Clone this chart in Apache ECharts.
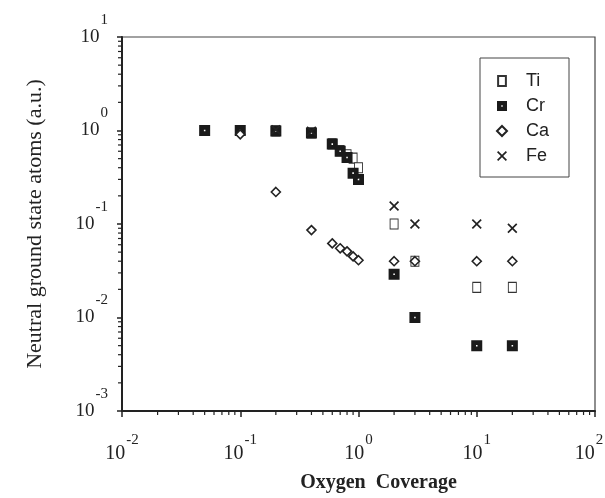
<!DOCTYPE html>
<html>
<head>
<meta charset="utf-8">
<script src="https://cdn.jsdelivr.net/npm/echarts@6/dist/echarts.min.js"></script>
<style>html,body{margin:0;padding:0;background:#fff;}#c{width:605px;height:498px;}</style>
</head>
<body>
<div id="c"></div>
<script>
// Data (x = oxygen coverage, y = neutral ground state atoms, a.u.)
var tiData = [[0.05,1.0],[0.1,1.0],[0.2,0.99],[0.4,0.94],[0.6,0.72],[0.7,0.61],[0.8,0.55],[0.9,0.506],[1.0,0.40],[2,0.10],[3,0.040],[10,0.021],[20,0.021]];
var crData = [[0.05,1.0],[0.1,1.0],[0.2,0.99],[0.4,0.94],[0.6,0.715],[0.7,0.60],[0.8,0.515],[0.9,0.35],[1.0,0.30],[2,0.029],[3,0.010],[10,0.005],[20,0.005]];
var caData = [[0.1,0.91],[0.2,0.22],[0.4,0.086],[0.6,0.062],[0.7,0.055],[0.8,0.051],[0.9,0.045],[1.0,0.041],[2,0.040],[3,0.040],[10,0.040],[20,0.040]];
var feData = [[0.2,1.02],[0.4,0.98],[2,0.156],[3,0.10],[10,0.10],[20,0.09]];
var seriesNames = ['Ti','Cr','Ca','Fe'];
var xMin = 0.01, xMax = 100, yMin = 0.001, yMax = 10;
var minorFactors = [2,3,4,5,6,7,8,9];

var serif = 'Liberation Serif';
var sans = 'Liberation Sans';
var ink = '#222';

function expLabel(v){
  var e = Math.round(Math.log10(v));
  return '{b|10}{e|' + e + '}';
}
function xExpLabel(v){
  var e = Math.round(Math.log10(v));
  var s = '{b|10}{e|' + e + '}';
  if (Math.abs(v - xMax) < 1e-9) s += '{s| }';
  return s;
}

var chart = echarts.init(document.getElementById('c'), null, {renderer:'canvas'});

// minor log ticks drawn through the axes' own scales
var xMinor = [], yMinor = [];
for (var k = -2; k < 2; k++) minorFactors.forEach(function(f){ xMinor.push(f*Math.pow(10,k)); });
for (var j = -3; j < 1; j++) minorFactors.forEach(function(f){ yMinor.push(f*Math.pow(10,j)); });

var option = {
  backgroundColor:'#fff',
  animation:false,
  grid:{left:122,right:10,top:37,bottom:87,show:true,borderColor:'#444',borderWidth:1.2,backgroundColor:'transparent',containLabel:false,outerBoundsMode:'none'},
  legend:{
    orient:'vertical', left:480, top:58,
    data:seriesNames,
    borderColor:'#444', borderWidth:1, borderRadius:0,
    padding:[14,20,12,16],
    itemWidth:10, itemHeight:10, itemGap:7,
    textStyle:{fontFamily:sans,fontSize:18,color:ink,padding:[0,0,0,14]}
  },
  xAxis:{
    type:'log', logBase:10, min:xMin, max:xMax,
    name:'Oxygen  Coverage', nameLocation:'middle', nameGap:62,
    nameTextStyle:{fontFamily:serif,fontSize:20,fontWeight:'bold',color:ink,padding:[0,0,0,40]},
    axisLine:{lineStyle:{color:ink,width:2}},
    axisTick:{inside:false,length:6,lineStyle:{color:ink,width:1.5}},
    minorTick:{show:false},
    splitLine:{show:false},
    axisLabel:{
      margin:22, color:ink, fontFamily:serif,
      formatter:xExpLabel,
      rich:{
        b:{fontFamily:serif,fontSize:20,color:ink,verticalAlign:'bottom'},
        e:{fontFamily:serif,fontSize:15,color:ink,verticalAlign:'bottom',padding:[0,0,16,1]},
        s:{fontFamily:serif,fontSize:15,width:12,verticalAlign:'bottom'}
      }
    }
  },
  yAxis:{
    type:'log', logBase:10, min:yMin, max:yMax,
    name:'Neutral ground state atoms (a.u.)', nameLocation:'middle', nameGap:76,
    nameTextStyle:{fontFamily:serif,fontSize:22,color:ink},
    axisLine:{lineStyle:{color:ink,width:2}},
    axisTick:{inside:false,length:5,lineStyle:{color:ink,width:1.5}},
    minorTick:{show:false},
    splitLine:{show:false},
    axisLabel:{
      margin:14, color:ink, fontFamily:serif,
      formatter:expLabel,
      rich:{
        b:{fontFamily:serif,fontSize:19,color:ink,verticalAlign:'bottom',padding:[0,0,15,0]},
        e:{fontFamily:serif,fontSize:15,color:ink,verticalAlign:'bottom',padding:[0,0,34,1]}
      }
    }
  },
  series:[
    {
      type:'custom', silent:true, z:1,
      coordinateSystem:'cartesian2d',
      data:xMinor.map(function(v){return [v, yMin];}),
      renderItem:function(params, api){
        var p = api.coord([api.value(0), api.value(1)]);
        return {type:'line', shape:{x1:p[0],y1:p[1],x2:p[0],y2:p[1]+4}, style:{stroke:ink,lineWidth:1.2}};
      }
    },
    {
      type:'custom', silent:true, z:1,
      coordinateSystem:'cartesian2d',
      data:yMinor.map(function(v){return [xMin, v];}),
      renderItem:function(params, api){
        var p = api.coord([api.value(0), api.value(1)]);
        return {type:'line', shape:{x1:p[0]-4,y1:p[1],x2:p[0],y2:p[1]}, style:{stroke:ink,lineWidth:1.2}};
      }
    },
    {
      name:'Ti', type:'scatter', data:tiData, z:3,
      symbol:'path://M0,0H7V9H0Z', symbolSize:[8,10],
      itemStyle:{color:'#fff',borderColor:'#333',borderWidth:1,opacity:1}
    },
    {
      name:'Cr', type:'scatter', data:crData, z:4,
      symbol:'path://M0,0H10V10H0ZM4.3,4.3V5.7H5.7V4.3Z', symbolSize:11,
      itemStyle:{color:'#1a1a1a',opacity:1}
    },
    {
      name:'Ca', type:'scatter', data:caData, z:5,
      symbol:'diamond', symbolSize:[9,9],
      itemStyle:{color:'#fff',borderColor:'#222',borderWidth:1.6,opacity:1}
    },
    {
      name:'Fe', type:'scatter', data:feData, z:6,
      symbol:'path://M0,1.2L1.2,0L5,3.8L8.8,0L10,1.2L6.2,5L10,8.8L8.8,10L5,6.2L1.2,10L0,8.8L3.8,5Z', symbolSize:10,
      itemStyle:{color:'#222',opacity:1}
    }
  ]
};
chart.setOption(option);
</script>
</body>
</html>
